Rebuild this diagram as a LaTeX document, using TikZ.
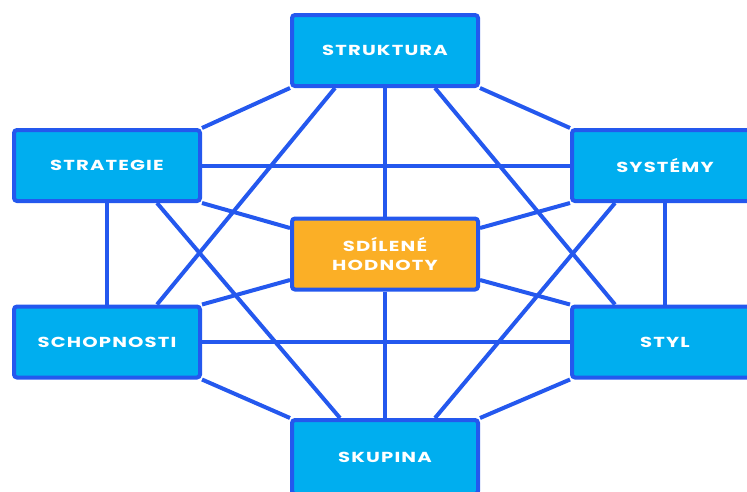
\documentclass[tikz,border=0pt]{standalone}
\usepackage{fontspec}
\usepackage{tikz}
\usetikzlibrary{calc,positioning,backgrounds}
\newfontfamily\boxfont[FakeStretch=1.35, LetterSpace=8]{Poppins}
\definecolor{linkblue}{RGB}{36,88,238}
\definecolor{boxcyan}{RGB}{0,174,239}
\definecolor{valorange}{RGB}{251,175,38}
\tikzset{%
  sbox/.style={draw=linkblue, line width=4pt, rectangle, rounded corners=3pt,
    fill=boxcyan, minimum width=186pt, minimum height=71pt, text=white,
    font=\boxfont\bfseries\fontsize{14.5}{19}\selectfont, align=center},% one S box
  core/.style={sbox, fill=valorange},% shared values in the middle
  link/.style={draw=linkblue, line width=4pt}% connecting line
}

\begin{document}
\begin{tikzpicture}[x=1pt, y=-1pt]
\useasboundingbox (0,0) rectangle (747,491);

\node[sbox] (struktura) at (385, 50.5) {STRUKTURA};
\node[sbox] (strategie) at (107, 165.5) {STRATEGIE};
\node[sbox] (systemy) at (665, 165.5) {SYSTÉMY};
\node[core] (hodnoty) at (385, 254) {SDÍLENÉ\\HODNOTY};
\node[sbox] (schopnosti) at (107, 342) {SCHOPNOSTI};
\node[sbox] (styl) at (665, 342) {STYL};
\node[sbox, minimum height=74pt] (skupina) at (385, 457) {SKUPINA};

\begin{scope}[on background layer]
% outer ring
\draw[link] (struktura.south west) -- (strategie.north east);
\draw[link] (struktura.south east) -- (systemy.north west);
\draw[link] (strategie.south) -- (schopnosti.north);
\draw[link] (systemy.south) -- (styl.north);
\draw[link] (schopnosti.south east) -- (skupina.north west);
\draw[link] (styl.south west) -- (skupina.north east);
% straight across
\draw[link] (strategie.east) -- (systemy.west);
\draw[link] (schopnosti.east) -- (styl.west);
\draw[link] (struktura.south) -- (hodnoty.north);
\draw[link] (hodnoty.south) -- (skupina.north);
% crossing diagonals
\draw[link] ($(struktura.south)+(-50,0)$) -- ($(schopnosti.north)+(50,0)$);
\draw[link] ($(struktura.south)+(50,0)$) -- ($(styl.north)+(-50,0)$);
\draw[link] ($(strategie.south)+(50,0)$) -- ($(skupina.north)+(-45,0)$);
\draw[link] ($(systemy.south)+(-50,0)$) -- ($(skupina.north)+(50,0)$);
% to the middle
\draw[link] (strategie.south east) -- ($(hodnoty.west)+(0,-26)$);
\draw[link] (systemy.south west) -- ($(hodnoty.east)+(0,-26)$);
\draw[link] (schopnosti.north east) -- ($(hodnoty.west)+(0,26)$);
\draw[link] (styl.north west) -- ($(hodnoty.east)+(0,26)$);
\end{scope}
\end{tikzpicture}
\end{document}
